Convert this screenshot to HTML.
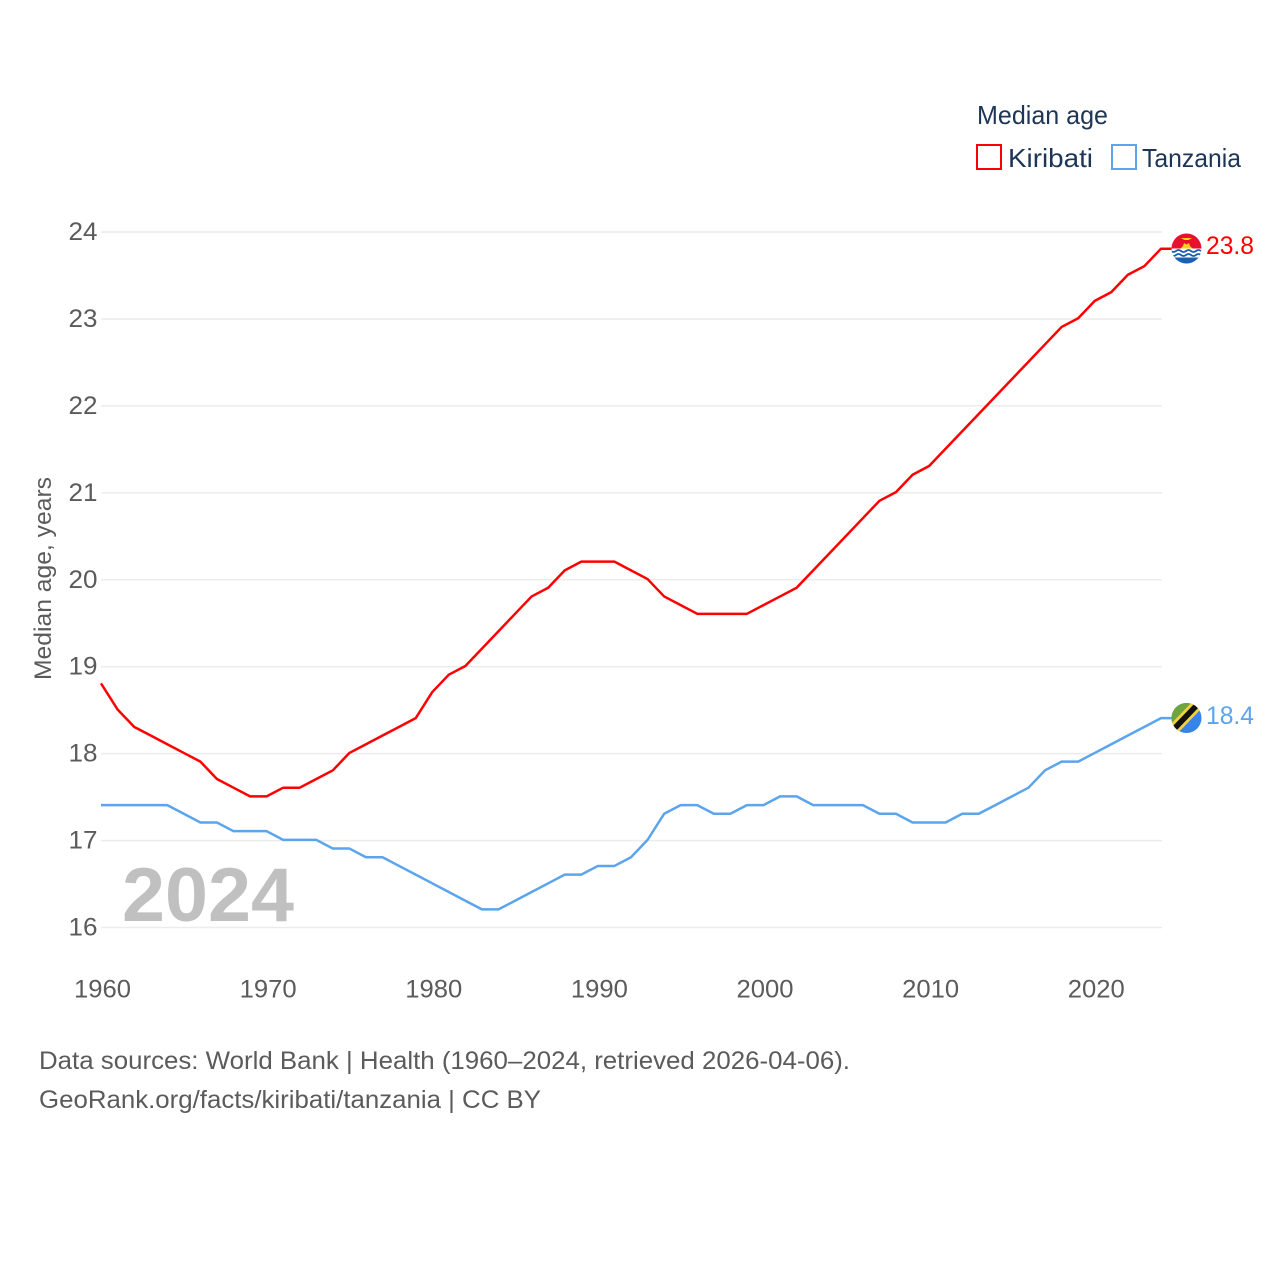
<!DOCTYPE html>
<html lang="en">
<head>
<meta charset="utf-8">
<title>Median age: Kiribati and Tanzania</title>
<style>
html,body{margin:0;padding:0;background:#fff;}
svg{display:block;font-family:"Liberation Sans",sans-serif;}
</style>
</head>
<body>
<svg id="chart" xmlns="http://www.w3.org/2000/svg" width="1280" height="1280" viewBox="0 0 1280 1280">
  <defs>
    <clipPath id="flag-clip-k"><circle cx="1186.5" cy="248.5" r="15"/></clipPath>
    <clipPath id="flag-clip-t"><circle cx="1186.5" cy="718" r="15"/></clipPath>
  </defs>
  <g id="grid"></g>
  <g id="yticks"></g>
  <g id="xticks"></g>
  <text x="122" y="921" font-size="76" font-weight="700" fill="#c0c0c0" textLength="172" lengthAdjust="spacingAndGlyphs">2024</text>
  <g id="series"></g>

  <text transform="translate(51,680) rotate(-90)" font-size="24" fill="#5b5b5b" textLength="203" lengthAdjust="spacingAndGlyphs">Median age, years</text>

  <g>
    <text x="977" y="124" font-size="26" fill="#1d3557" textLength="131" lengthAdjust="spacingAndGlyphs">Median age</text>
    <g>
      <rect x="977" y="145" width="24" height="24" fill="#fff" stroke="#ff0000" stroke-width="2"/>
      <text x="1008" y="167" font-size="26" fill="#1d3557" textLength="85" lengthAdjust="spacingAndGlyphs">Kiribati</text>
    </g>
    <g>
      <rect x="1112" y="145" width="24" height="24" fill="#fff" stroke="#5ba4ee" stroke-width="2"/>
      <text x="1142" y="167" font-size="26" fill="#1d3557" textLength="99" lengthAdjust="spacingAndGlyphs">Tanzania</text>
    </g>
  </g>

  <g clip-path="url(#flag-clip-k)">
    <rect x="1171" y="233" width="31" height="16" fill="#e8112d"/>
    <path d="M1181 238h11l-3.500 2h-4z" fill="#fcd116"/>
    <path d="M1180 249l3-3 1-3 2.500 1.500 2.500-1.500 1 3 3 3z" fill="#fcd116"/>
    <rect x="1171" y="248.500" width="31" height="16" fill="#fff"/>
    <rect x="1171" y="257.500" width="31" height="8" fill="#1a5fb4"/>
    <path d="M1171 251q2.500 2 5 0t5 0 5 0 5 0 5 0 5 0M1171 255q2.500 2 5 0t5 0 5 0 5 0 5 0 5 0" fill="none" stroke="#1a5fb4" stroke-width="1.800"/>
  </g>

  <g clip-path="url(#flag-clip-t)">
    <rect x="1171" y="702" width="31" height="32" fill="#3585e8"/>
    <path d="M1171 702h31l-31 32z" fill="#6fa53f"/>
    <path d="M1168 727l27-28 8 8-27 28z" fill="#f4d03f"/>
    <path d="M1170 729l27-28 4 4-27 28z" fill="#111"/>
  </g>

  <text x="1206" y="254" font-size="25" fill="#ff0000" textLength="48" lengthAdjust="spacingAndGlyphs">23.8</text>
  <text x="1206" y="724" font-size="25" fill="#5ba4ee" textLength="48" lengthAdjust="spacingAndGlyphs">18.4</text>

  <text x="39" y="1069" font-size="25" fill="#5b5b5b" textLength="811" lengthAdjust="spacingAndGlyphs">Data sources: World Bank | Health (1960–2024, retrieved 2026-04-06).</text>
  <text x="39" y="1108" font-size="25" fill="#5b5b5b" textLength="502" lengthAdjust="spacingAndGlyphs">GeoRank.org/facts/kiribati/tanzania | CC BY</text>
</svg>
<script>
const startYear = 1960;
const yTickValues = [16, 17, 18, 19, 20, 21, 22, 23, 24];
const xTickValues = [1960, 1970, 1980, 1990, 2000, 2010, 2020];
const kiribatiValues = [
  18.8, 18.5, 18.3, 18.2, 18.1, 18.0, 17.9, 17.7, 17.6, 17.5,
  17.5, 17.6, 17.6, 17.7, 17.8, 18.0, 18.1, 18.2, 18.3, 18.4,
  18.7, 18.9, 19.0, 19.2, 19.4, 19.6, 19.8, 19.9, 20.1, 20.2,
  20.2, 20.2, 20.1, 20.0, 19.8, 19.7, 19.6, 19.6, 19.6, 19.6,
  19.7, 19.8, 19.9, 20.1, 20.3, 20.5, 20.7, 20.9, 21.0, 21.2,
  21.3, 21.5, 21.7, 21.9, 22.1, 22.3, 22.5, 22.7, 22.9, 23.0,
  23.2, 23.3, 23.5, 23.6, 23.8
];
const tanzaniaValues = [
  17.4, 17.4, 17.4, 17.4, 17.4, 17.3, 17.2, 17.2, 17.1, 17.1,
  17.1, 17.0, 17.0, 17.0, 16.9, 16.9, 16.8, 16.8, 16.7, 16.6,
  16.5, 16.4, 16.3, 16.2, 16.2, 16.3, 16.4, 16.5, 16.6, 16.6,
  16.7, 16.7, 16.8, 17.0, 17.3, 17.4, 17.4, 17.3, 17.3, 17.4,
  17.4, 17.5, 17.5, 17.4, 17.4, 17.4, 17.4, 17.3, 17.3, 17.2,
  17.2, 17.2, 17.3, 17.3, 17.4, 17.5, 17.6, 17.8, 17.9, 17.9,
  18.0, 18.1, 18.2, 18.3, 18.4
];

const NS = 'http://www.w3.org/2000/svg';
function xScale(year) { return 101 + (year - 1960) * (1161 - 101) / 64; }
function yScale(value) { return 927.5 - (value - 16) * (927.5 - 232) / 8; }
function make(tag, attrs, parent) {
  const el = document.createElementNS(NS, tag);
  for (const k in attrs) el.setAttribute(k, attrs[k]);
  parent.appendChild(el);
  return el;
}

const gridGroup = document.getElementById('grid');
const yGroup = document.getElementById('yticks');
const xGroup = document.getElementById('xticks');
const seriesGroup = document.getElementById('series');

yTickValues.forEach(function (v) {
  const line = make('line', { x1: 101, x2: 1162, y1: yScale(v), y2: yScale(v), stroke: '#ececec', 'stroke-width': 1.5 }, gridGroup);
  
  
  const label = make('text', { x: 68.5, y: yScale(v) + 8, 'font-size': 25, fill: '#5b5b5b', textLength: 29, lengthAdjust: 'spacingAndGlyphs' }, yGroup);
  label.textContent = String(v);
  
  
});

xTickValues.forEach(function (year) {
  const label = make('text', { x: xScale(year) + 1.5, y: 997.5, 'font-size': 25, fill: '#5b5b5b', 'text-anchor': 'middle', textLength: 57, lengthAdjust: 'spacingAndGlyphs' }, xGroup);
  label.textContent = String(year);
  
  
});

function drawSeries(values, color, name) {
  const pts = values.map(function (v, i) {
    return xScale(startYear + i).toFixed(2) + ',' + (yScale(v) - 0.7).toFixed(2);
  });
  const last = values[values.length - 1];
  pts.push('1172,' + (yScale(last) - 0.7).toFixed(2));
  const line = make('polyline', { points: pts.join(' '), fill: 'none', stroke: color, 'stroke-width': 2.5, 'stroke-linejoin': 'round' }, seriesGroup);
  
  
}
drawSeries(tanzaniaValues, '#5ba4ee', 'tanzania-line');
drawSeries(kiribatiValues, '#ff0000', 'kiribati-line');
</script>
</body>
</html>
